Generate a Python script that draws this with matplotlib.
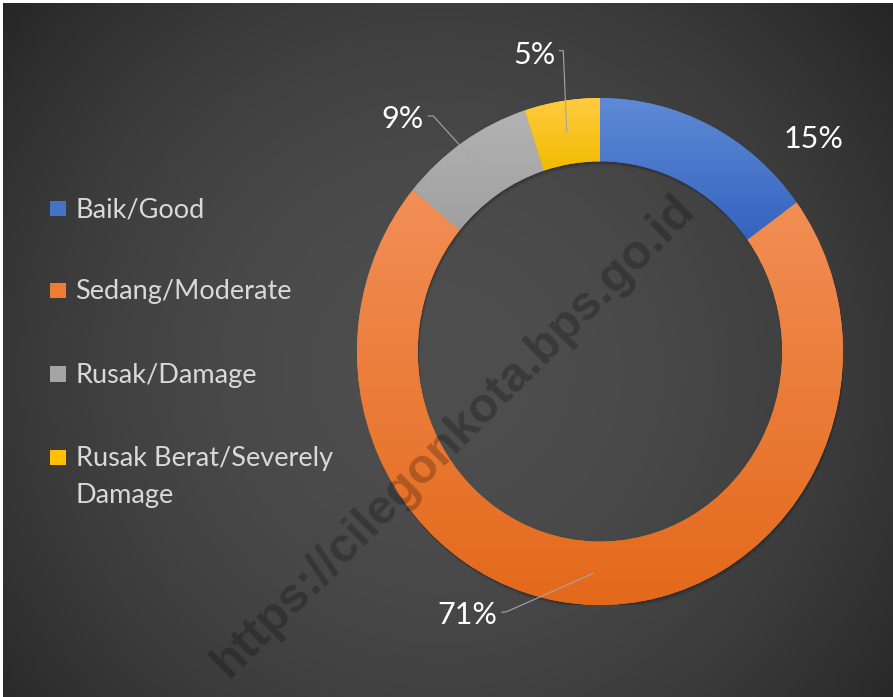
import matplotlib
matplotlib.use('Agg')

import numpy as np
import matplotlib.pyplot as plt
from matplotlib.patches import Wedge, Rectangle
from matplotlib.colors import LinearSegmentedColormap

W, H = 893, 697

categories = ['Baik/Good', 'Sedang/Moderate', 'Rusak/Damage', 'Rusak Berat/Severely\nDamage']
values = [15, 71, 9, 5]
pct_labels = ['15%', '71%', '9%', '5%']
colors = ['#4472C4', '#ED7D31', '#A5A5A5', '#FFC000']
grad_top = ['#5F8AD6', '#F28F57', '#B3B3B3', '#FFCC40']
grad_bottom = ['#3463BF', '#E3691A', '#A0A0A0', '#F2BA00']

FONT = 'Lato'

fig = plt.figure(figsize=(W / 100, H / 100), dpi=100, facecolor='white')

# background with radial shading
bg = fig.add_axes([0, 0, 1, 1])
yy, xx = np.mgrid[0:H, 0:W]
d2 = (xx - 440) ** 2 + (yy - 370) ** 2
shade = np.clip(78 - 1.21e-4 * d2, 30, 90) / 255
bg.imshow(np.dstack([shade] * 3), extent=(3, W, H, 3), interpolation='bilinear', aspect='auto')
bg.set_xlim(0, W)
bg.set_ylim(H, 0)
bg.axis('off')

# donut
ax = fig.add_axes([357 / W, 1 - 605 / H, 486 / W, 507 / H])
wedges, _ = ax.pie(values, colors=colors, startangle=90, counterclock=False, radius=1,
                   wedgeprops=dict(width=0.25, linewidth=0))

# soft shadow under the ring
px, py = 2 / 486, 2 / 507
for k in range(1, 5):
    ax.add_patch(Wedge((0.4 * k * px, -k * py), 1, 0, 360, width=0.25,
                       facecolor='black', alpha=0.07, lw=0, zorder=0.5))

# vertical gradient on each slice
for w, c0, c1 in zip(wedges, grad_top, grad_bottom):
    ext = w.get_path().get_extents()
    cmap = LinearSegmentedColormap.from_list('g', [c0, c1])
    img = ax.imshow(np.linspace(0, 1, 256).reshape(-1, 1), cmap=cmap, origin='upper',
                    extent=(ext.x0, ext.x1, ext.y0, ext.y1), aspect='auto', zorder=2)
    img.set_clip_path(w)

ax.set_xlim(-1, 1)
ax.set_ylim(-1, 1)
ax.set_aspect('auto')
ax.axis('off')

# overlay for text, leaders, watermark
ov = fig.add_axes([0, 0, 1, 1])
ov.set_xlim(0, W)
ov.set_ylim(H, 0)
ov.axis('off')

ov.text(454, 436, 'https://cilegonkota.bps.go.id', rotation=45, rotation_mode='anchor',
        ha='center', va='center', fontsize=35, fontweight='bold',
        family='Liberation Sans', color='black', alpha=0.24)

# percentage labels with leader lines
total = sum(values)
cum = np.cumsum(values)
mid_angles = np.deg2rad(90 - 360 * (cum - np.array(values) / 2) / total)
label_pos = [(813, 147.5), (467, 624.5), (402.5, 128.5), (534, 63.5)]
elbows = [None, [(501.7, 612.3), (506.7, 611.7)], [(428.3, 116), (433.3, 116)],
          [(559.3, 50.7), (563.3, 50.7)]]

to_ov = ov.transData.inverted()
for lab, (tx, ty), elb, ang in zip(pct_labels, label_pos, elbows, mid_angles):
    ov.text(tx, ty, lab, ha='center', va='baseline', fontsize=22, family=FONT, color='white')
    if elb is None:
        continue
    anchor = to_ov.transform(ax.transData.transform((0.875 * np.cos(ang), 0.875 * np.sin(ang))))
    xs = [elb[0][0], elb[1][0], anchor[0]]
    ys = [elb[0][1], elb[1][1], anchor[1]]
    ov.plot(xs, ys, color='#a6a6a6', lw=0.8)

# legend
legend_base = [217.3, 299.3, 382.7, 466]
line_step = 36.7
for cat, col, yb in zip(categories, colors, legend_base):
    ov.add_patch(Rectangle((50, yb - 16.5), 15.5, 15.5, facecolor=col, lw=0))
    for i, line in enumerate(cat.split('\n')):
        ov.text(75.5, yb + i * line_step, line, ha='left', va='baseline', fontsize=19.5,
                family=FONT, color='#d9d9d9')

fig.savefig('out.png', dpi=100, facecolor='white')
